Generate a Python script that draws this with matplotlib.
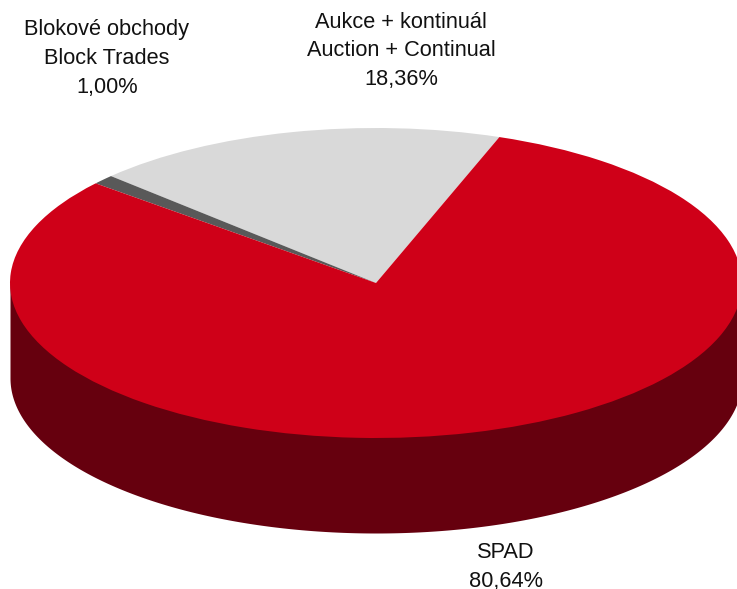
import numpy as np
import matplotlib
matplotlib.use('Agg')
import matplotlib.pyplot as plt

plt.rcParams['font.family'] = ['Liberation Sans', 'DejaVu Sans']

labels = ['Aukce + kontinuál\nAuction + Continual\n18,36%',
          'Blokové obchody\nBlock Trades\n1,00%',
          'SPAD\n80,64%']
values = [18.36, 1.00, 80.64]
colors = ['#d9d9d9', '#595959', '#cf0018']
side_color = '#66000e'

W, H = 737, 589
fig = plt.figure(figsize=(W / 100, H / 100), dpi=100)
ax = fig.add_axes([0, 0, 1, 1])

start = 70.3
cx, cy = 376, 283
rx, ry = 366, 155
depth = 95 / ry  # in units of the squashed radius

# side of the pie, runs up under the top face so no gap shows
t = np.linspace(np.pi, 2 * np.pi, 300)
ax.fill_between(np.cos(t), 0, np.sin(t) - depth, color=side_color, lw=0)
ax.pie(values, colors=colors, startangle=start, radius=1, center=(0, 0))

# pie() forces equal aspect, undo it so the circle becomes an ellipse
ax.set_aspect('auto')
ax.set_xlim(-cx / rx, (W - cx) / rx)
ax.set_ylim((cy - H) / ry, cy / ry)
ax.set_frame_on(False)

fig.text(401 / W, 1 - 51 / H, labels[0], ha='center', va='center', fontsize=15.7, linespacing=1.5, color='#111111')
fig.text(107 / W, 1 - 59 / H, labels[1], ha='center', va='center', fontsize=15.7, linespacing=1.5, color='#111111')
fig.text(506 / W, 1 - 567 / H, labels[2], ha='center', va='center', fontsize=15.7, linespacing=1.5, color='#111111')

fig.savefig('out.png', dpi=100)
